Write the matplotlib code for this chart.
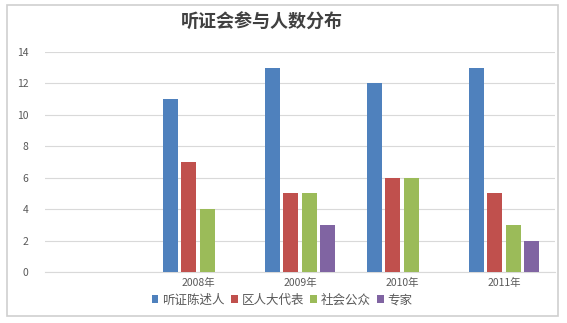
import matplotlib
matplotlib.use("Agg")
import matplotlib.pyplot as plt
import numpy as np
from matplotlib.patches import Rectangle

plt.rcParams['font.family'] = ['Noto Sans CJK SC', 'DejaVu Sans']

categories = ['', '2008年', '2009年', '2010年', '2011年']
series_names = ['听证陈述人', '区人大代表', '社会公众', '专家']
speakers = [0, 11, 13, 12, 13]
deputies = [0, 7, 5, 6, 5]
public = [0, 4, 5, 6, 3]
experts = [0, 0, 3, 0, 2]
yticks = [0, 2, 4, 6, 8, 10, 12, 14]

colors = ['#4F81BD', '#C0504D', '#9BBB59', '#8064A2']
values = [speakers, deputies, public, experts]

fig = plt.figure(figsize=(5.67, 3.23), dpi=100)
fig.patch.set_facecolor('white')
fig.add_artist(Rectangle((7 / 567, 1 - 316 / 323), 551 / 567, 311 / 323,
                         transform=fig.transFigure, fill=False,
                         edgecolor='#cfcfcf', linewidth=1.2))

ax = fig.add_axes([45 / 567, 1 - 272 / 323, 510 / 567, 220 / 323])
x = np.arange(len(categories))
step = 0.18
width = 0.147
for i, (vals, c, name) in enumerate(zip(values, colors, series_names)):
    ax.bar(x + (i - 1.5) * step, vals, width=width, color=c, label=name, zorder=3)

ax.set_xlim(-0.5, len(categories) - 0.5)
ax.set_ylim(0, 14)
ax.set_yticks(yticks)
ax.set_xticks(x)
ax.set_xticklabels(categories)
ax.grid(axis='y', color='#d9d9d9', linewidth=0.8, zorder=0)
for s in ['top', 'right', 'left']:
    ax.spines[s].set_visible(False)
ax.spines['bottom'].set_color('#d9d9d9')
ax.tick_params(axis='both', length=0, labelsize=7.5, colors='#595959')
ax.tick_params(axis='y', pad=12)
ax.tick_params(axis='x', pad=4)

fig.text(262 / 567, 1 - 22 / 323, '听证会参与人数分布', ha='center', va='center',
         fontsize=13, fontweight='bold', color='#404040')

leg = ax.legend(loc='upper center', bbox_to_anchor=(0.465, -0.075), ncol=4,
                frameon=False, fontsize=9, handlelength=0.55, handleheight=0.55,
                handletextpad=0.3, columnspacing=0.5, borderaxespad=0)
for t in leg.get_texts():
    t.set_color('#595959')

fig.savefig('out.png', dpi=100)
